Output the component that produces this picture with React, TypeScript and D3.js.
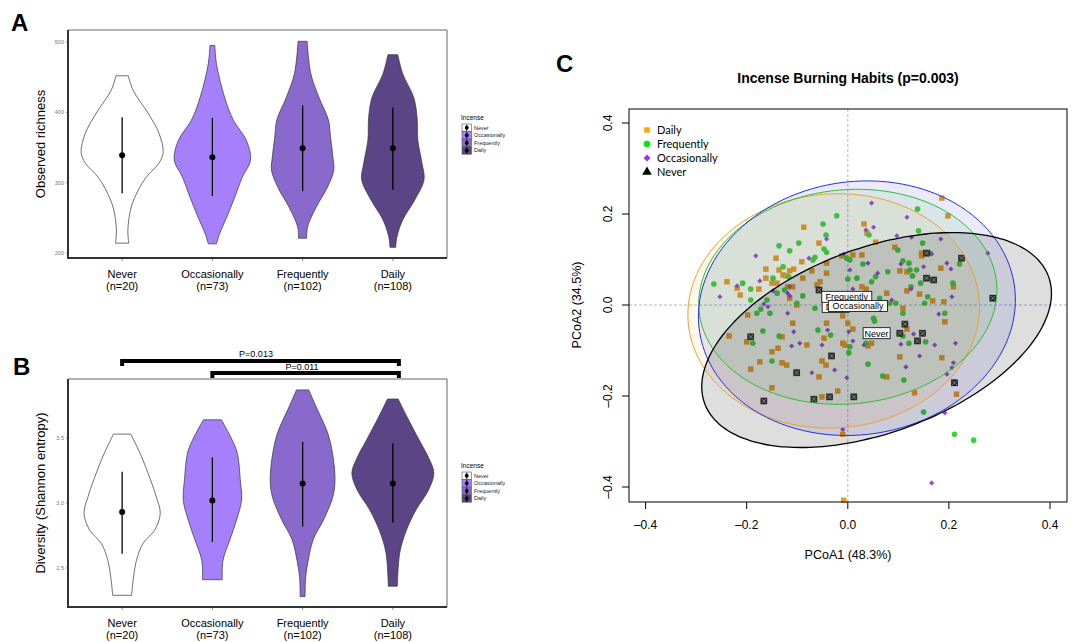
import React from "react";
import * as d3 from "d3";

const groups = ["Never", "Occasionally", "Frequently", "Daily"];
const groupN = [20, 73, 102, 108];
const fills = ["#ffffff", "#a67ffc", "#8a69cc", "#5c4587"];

// violin outlines: values and relative half widths
const richNeverV = [214, 233, 265, 289, 308, 328, 343, 370, 399, 431, 452];
const richNeverD = [0.16, 0.14, 0.22, 0.39, 0.59, 0.9, 1.0, 0.9, 0.63, 0.27, 0.15];
const richOccV = [213, 228, 251, 280, 308, 332, 360, 389, 421, 469, 495];
const richOccD = [0.1, 0.18, 0.35, 0.55, 0.73, 0.93, 0.83, 0.51, 0.3, 0.1, 0.06];
const richFreqV = [221, 237, 265, 294, 318, 336, 365, 389, 421, 455, 501];
const richFreqD = [0.1, 0.12, 0.33, 0.61, 0.76, 0.74, 0.68, 0.63, 0.4, 0.2, 0.11];
const richDailyV = [208, 223, 247, 275, 304, 328, 360, 393, 421, 455, 482];
const richDailyD = [0.07, 0.1, 0.24, 0.53, 0.76, 0.71, 0.61, 0.59, 0.51, 0.24, 0.12];
const richMean = [339, 336, 349, 349];
const richLo = [285, 281, 288, 290];
const richHi = [393, 392, 410, 407];

const shNeverV = [2.29, 2.41, 2.56, 2.69, 2.79, 2.92, 3.05, 3.18, 3.38, 3.53];
const shNeverD = [0.23, 0.27, 0.35, 0.51, 0.79, 0.93, 0.83, 0.69, 0.44, 0.21];
const shOccV = [2.41, 2.56, 2.72, 2.87, 3.02, 3.18, 3.38, 3.48, 3.64];
const shOccD = [0.24, 0.26, 0.43, 0.59, 0.71, 0.68, 0.61, 0.49, 0.22];
const shFreqV = [2.28, 2.41, 2.51, 2.72, 2.87, 3.05, 3.18, 3.38, 3.54, 3.74, 3.87];
const shFreqD = [0.06, 0.07, 0.11, 0.26, 0.51, 0.74, 0.79, 0.73, 0.61, 0.33, 0.15];
const shDailyV = [2.36, 2.62, 2.79, 2.95, 3.1, 3.23, 3.35, 3.48, 3.66, 3.8];
const shDailyD = [0.11, 0.17, 0.33, 0.57, 0.87, 1.0, 0.87, 0.65, 0.35, 0.13];
const shMean = [2.93, 3.02, 3.15, 3.15];
const shLo = [2.61, 2.7, 2.82, 2.85];
const shHi = [3.24, 3.35, 3.47, 3.46];

const richTicks = [200, 300, 400, 500];
const shTicks = [2.5, 3.0, 3.5];

// PCoA scores
const pcoaDaily = [
  [-0.087, 0.171], [-0.057, 0.136], [-0.142, 0.103], [-0.091, 0.095], [-0.162, 0.079], [-0.136, 0.077],
  [-0.115, 0.075], [-0.107, 0.079], [-0.128, 0.066], [-0.162, 0.059], [-0.14, 0.048], [-0.15, 0.048],
  [-0.123, 0.064], [-0.239, 0.051], [-0.219, 0.037], [-0.176, 0.035], [-0.213, 0.022], [-0.115, 0.015],
  [-0.119, 0.04], [-0.109, 0.04], [-0.089, 0.059], [-0.071, 0.075], [-0.042, 0.092], [-0.042, 0.07],
  [-0.055, 0.051], [-0.061, 0.044], [-0.012, 0.108], [0.01, 0.11], [-0.198, -0.022], [-0.01, -0.024],
  [-0.101, 0.0], [0.186, 0.235], [0.198, 0.196], [0.032, 0.178], [0.038, 0.158], [0.055, 0.138],
  [0.093, 0.127], [0.146, 0.114], [0.146, 0.108], [0.103, 0.075], [0.117, 0.073], [0.184, 0.081],
  [0.028, 0.04], [0.036, 0.035], [0.077, 0.026], [0.117, 0.031], [0.142, 0.024], [0.168, 0.009],
  [0.19, 0.007], [0.209, 0.04], [0.109, -0.007], [0.028, 0.11], [-0.109, -0.04], [-0.235, -0.068],
  [-0.2, -0.081], [-0.13, -0.07], [-0.15, -0.103], [-0.138, -0.095], [-0.081, -0.088], [-0.047, -0.073],
  [-0.042, -0.04], [-0.01, -0.084], [-0.006, -0.088], [-0.174, -0.125], [-0.192, -0.141], [-0.13, -0.127],
  [-0.121, -0.132], [-0.051, -0.123], [-0.043, -0.132], [-0.057, -0.158], [-0.15, -0.182], [-0.02, -0.189],
  [-0.051, -0.202], [0.01, -0.053], [0.0, -0.04], [-0.01, -0.284], [0.192, -0.037], [0.117, -0.053],
  [0.047, -0.084], [0.04, -0.09], [0.103, -0.114], [0.186, -0.116], [0.077, -0.158], [0.132, -0.193],
  [0.215, -0.196], [-0.008, -0.429],
];
const pcoaFrequently = [
  [-0.049, 0.178], [-0.022, 0.196], [-0.043, 0.154], [-0.097, 0.136], [-0.115, 0.119], [-0.136, 0.13],
  [-0.047, 0.123], [-0.042, 0.116], [-0.065, 0.105], [-0.069, 0.099], [-0.128, 0.084], [-0.148, 0.059],
  [-0.208, 0.048], [-0.265, 0.046], [-0.192, 0.035], [-0.192, 0.011], [-0.16, 0.011], [-0.14, 0.026],
  [-0.125, 0.033], [-0.089, 0.02], [-0.101, 0.004], [-0.065, -0.007], [-0.172, -0.009], [-0.18, -0.018],
  [-0.154, -0.018], [0.0, 0.057], [0.018, 0.059], [0.004, 0.099], [-0.002, 0.103], [-0.117, 0.062],
  [0.138, 0.211], [0.14, 0.163], [0.148, 0.136], [0.099, 0.121], [0.162, 0.114], [0.109, 0.097],
  [0.121, 0.092], [0.123, 0.077], [0.136, 0.077], [0.079, 0.073], [0.047, 0.051], [0.03, 0.09],
  [0.128, 0.064], [0.144, 0.048], [0.125, 0.04], [0.208, 0.048], [0.221, 0.09], [0.158, 0.018],
  [0.152, 0.004], [0.095, 0.004], [0.083, 0.004], [0.063, 0.015], [0.055, 0.062], [0.109, -0.018],
  [0.192, -0.018], [0.051, -0.029], [0.042, 0.154], [-0.168, -0.057], [-0.188, -0.084], [-0.136, -0.068],
  [-0.059, -0.055], [-0.034, -0.066], [0.004, -0.092], [0.002, -0.105], [-0.15, -0.123], [0.053, -0.035],
  [0.109, -0.068], [0.121, -0.084], [0.154, -0.081], [0.036, -0.084], [0.04, -0.13], [0.069, -0.156],
  [0.111, -0.165], [0.15, -0.235], [0.211, -0.284], [0.249, -0.297],
];
const pcoaOccasionally = [
  [-0.042, 0.145], [-0.182, 0.108], [-0.077, 0.103], [-0.008, 0.112], [0.004, 0.077], [-0.174, 0.053],
  [-0.219, 0.042], [-0.253, 0.018], [-0.148, 0.031], [-0.119, 0.026], [-0.115, 0.02], [-0.166, 0.002],
  [-0.158, -0.004], [-0.119, -0.018], [0.01, 0.035], [-0.115, 0.04], [0.047, 0.224], [0.117, 0.193],
  [0.051, 0.171], [0.036, 0.165], [0.097, 0.152], [0.126, 0.149], [0.184, 0.145], [0.277, 0.114],
  [0.166, 0.112], [0.196, 0.092], [0.204, 0.079], [0.15, 0.084], [0.105, 0.09], [0.059, 0.07],
  [0.04, 0.092], [0.125, 0.035], [0.206, 0.018], [0.087, 0.011], [0.18, -0.02], [-0.107, -0.059],
  [-0.04, -0.055], [-0.095, -0.084], [-0.111, -0.09], [-0.051, -0.088], [-0.026, -0.143], [-0.002, -0.16],
  [-0.071, -0.149], [-0.01, -0.273], [0.01, -0.079], [0.002, -0.059], [0.13, -0.064], [0.105, -0.086],
  [0.172, -0.088], [0.213, -0.084], [0.032, -0.088], [0.142, -0.112], [0.209, -0.127], [0.115, -0.136],
  [0.206, -0.138], [0.196, -0.152], [0.192, -0.237], [0.166, -0.391],
];
const pcoaNever = [
  [-0.057, 0.033], [0.156, 0.114], [0.225, 0.103], [0.156, 0.059], [0.17, 0.055], [0.287, 0.015],
  [-0.192, -0.07], [-0.032, -0.112], [-0.101, -0.149], [-0.067, -0.207], [-0.036, -0.202], [0.012, -0.202],
  [-0.166, -0.211], [0.113, -0.042], [0.148, -0.062], [0.103, -0.062], [0.138, -0.079], [0.211, -0.171],
];
// group ellipses: centre x, centre y, radius a, radius b, angle (deg)
const ellDaily = [-0.028, -0.013, 0.289, 0.257, 8];
const ellFrequently = [0.0, 0.018, 0.296, 0.235, 8];
const ellOccasionally = [0.018, -0.007, 0.316, 0.277, 15];
const ellNever = [0.057, -0.077, 0.368, 0.2, 24];
// group centroid labels
const labelDaily = [-0.024, -0.004];
const labelFrequently = [-0.002, 0.018];
const labelOccasionally = [0.02, -0.002];
const labelNever = [0.057, -0.062];
const pcoaTicks = [-0.4, -0.2, 0.0, 0.2, 0.4];

const sans = "Liberation Sans, Arial, sans-serif";

function ViolinPanel(props) {
  const { top, bottom, yDomain, yRange, ticks, profiles, mean, lo, hi, yLabel, labelY, fmt } = props;
  const left = 68, right = 447;
  const x = d3.scalePoint().domain(groups).range([left, right]).padding(0.6);
  const y = d3.scaleLinear().domain(yDomain).range(yRange);
  const w = d3.scaleLinear().domain([0, 1]).range([0, 41]);

  return (
    <g>
      {profiles.map((p, i) => {
        const cx = x(groups[i]);
        const pts = p[0].map((v, j) => [v, p[1][j]]);
        const area = d3.area()
          .y(d => y(d[0]))
          .x0(d => cx - w(d[1]))
          .x1(d => cx + w(d[1]))
          .curve(d3.curveCatmullRom);
        return (
          <g key={i}>
            <path d={area(pts)} fill={fills[i]} stroke="#333" strokeWidth={0.7} />
            <line x1={cx} x2={cx} y1={y(lo[i])} y2={y(hi[i])} stroke="#000" strokeWidth={1.3} />
            <circle cx={cx} cy={y(mean[i])} r={3} fill="#000" />
          </g>
        );
      })}
      <line x1={left} x2={right} y1={top} y2={top} stroke="#666" strokeWidth={1} />
      <line x1={right} x2={right} y1={top} y2={bottom} stroke="#666" strokeWidth={1} />
      <line x1={left} x2={left} y1={top} y2={bottom + 1} stroke="#333" strokeWidth={2} />
      <line x1={left - 1} x2={right} y1={bottom} y2={bottom} stroke="#333" strokeWidth={2} />
      {ticks.map(t => (
        <g key={t}>
          <line x1={left - 2} x2={left} y1={y(t)} y2={y(t)} stroke="#444" strokeWidth={0.6} />
          <text x={left - 4} y={y(t) + 2} fontSize={5.5} fill="#777" textAnchor="end" fontFamily={sans}>{fmt(t)}</text>
        </g>
      ))}
      {groups.map((g, i) => (
        <g key={g}>
          <line x1={x(g)} x2={x(g)} y1={bottom + 1} y2={bottom + 3} stroke="#444" strokeWidth={0.6} />
          <text x={x(g)} y={labelY} fontSize={11} textAnchor="middle" fontFamily={sans}>{g}</text>
          <text x={x(g)} y={labelY + 11.5} fontSize={11} textAnchor="middle" fontFamily={sans}>{`(n=${groupN[i]})`}</text>
        </g>
      ))}
      <text transform={`translate(45,${(top + bottom) / 2}) rotate(-90)`} fontSize={13} textAnchor="middle" fontFamily={sans}>{yLabel}</text>
    </g>
  );
}

function ViolinLegend({ x0, y0 }) {
  return (
    <g fontFamily={sans}>
      <text x={x0} y={y0} fontSize={6.5}>Incense</text>
      {groups.map((g, i) => {
        const ry = y0 + 4 + i * 7.6;
        return (
          <g key={g}>
            <rect x={x0 + 1} y={ry} width={9.5} height={7.4} fill={fills[i]} stroke="#555" strokeWidth={0.6} />
            <line x1={x0 + 5.75} x2={x0 + 5.75} y1={ry + 0.5} y2={ry + 7} stroke="#000" strokeWidth={1} />
            <circle cx={x0 + 5.75} cy={ry + 3.7} r={1.9} fill="#000" />
            <text x={x0 + 13} y={ry + 5.6} fontSize={5.5} fill="#222">{g}</text>
          </g>
        );
      })}
    </g>
  );
}

function NeverMark({ cx, cy }) {
  return (
    <g>
      <rect x={cx - 3} y={cy - 3} width={6} height={6} fill="#2a2a2a" stroke="#000" strokeWidth={0.6} />
      <line x1={cx - 2.2} x2={cx + 2.2} y1={cy - 2.2} y2={cy + 2.2} stroke="#ccc" strokeWidth={0.7} />
      <line x1={cx - 2.2} x2={cx + 2.2} y1={cy + 2.2} y2={cy - 2.2} stroke="#ccc" strokeWidth={0.7} />
    </g>
  );
}

function PcoaPanel() {
  const xC = d3.scaleLinear().domain([-0.4, 0.4]).range([645.6, 1050]);
  const yC = d3.scaleLinear().domain([-0.4, 0.4]).range([487, 123]);
  const L = 629, R = 1067, T = 109, B = 502;
  const ellPath = e => {
    const a = (e[4] * Math.PI) / 180;
    const pts = d3.range(0, 360, 3).map(t => {
      const r = (t * Math.PI) / 180;
      const u = e[2] * Math.cos(r), v = e[3] * Math.sin(r);
      return [e[0] + u * Math.cos(a) - v * Math.sin(a), e[1] + u * Math.sin(a) + v * Math.cos(a)];
    });
    return d3.line().x(d => xC(d[0])).y(d => yC(d[1])).curve(d3.curveCardinalClosed)(pts);
  };
  const sq = d3.symbol(d3.symbolSquare, 30)();
  const dia = d3.symbol(d3.symbolSquare, 13)();
  const tri = d3.symbol(d3.symbolTriangle, 40)();
  const ells = [
    { e: ellDaily, fill: "rgba(255,160,0,0.08)", stroke: "#f0a030" },
    { e: ellFrequently, fill: "rgba(0,200,0,0.07)", stroke: "#33bb33" },
    { e: ellOccasionally, fill: "rgba(20,20,200,0.09)", stroke: "#2233dd" },
    { e: ellNever, fill: "rgba(0,0,0,0.13)", stroke: "#000" },
  ];
  const labels = [
    { p: labelDaily, t: "Daily" },
    { p: labelFrequently, t: "Frequently" },
    { p: labelOccasionally, t: "Occasionally" },
    { p: labelNever, t: "Never" },
  ];
  return (
    <g fontFamily={sans}>
      <text x={848} y={83} fontSize={14} fontWeight="bold" textAnchor="middle">Incense Burning Habits (p=0.003)</text>
      <line x1={xC(0)} x2={xC(0)} y1={T} y2={B} stroke="#8fa6d6" strokeWidth={0.8} strokeDasharray="3,2" />
      <line x1={L} x2={R} y1={yC(0)} y2={yC(0)} stroke="#8fa6d6" strokeWidth={0.8} strokeDasharray="3,2" />
      {pcoaDaily.map((d, i) => (
        <path key={"d" + i} d={sq} transform={`translate(${xC(d[0])},${yC(d[1])})`} fill="#f29a26" />
      ))}
      {pcoaFrequently.map((d, i) => (
        <circle key={"f" + i} cx={xC(d[0])} cy={yC(d[1])} r={2.8} fill="#3fd23f" />
      ))}
      {pcoaOccasionally.map((d, i) => (
        <path key={"o" + i} d={dia} transform={`translate(${xC(d[0])},${yC(d[1])}) rotate(45)`} fill="#9a44e4" />
      ))}
      {pcoaNever.map((d, i) => (
        <NeverMark key={"n" + i} cx={xC(d[0])} cy={yC(d[1])} />
      ))}
      {ells.map((e, i) => (
        <path key={"ef" + i} d={ellPath(e.e)} fill={e.fill} stroke="none" />
      ))}
      {ells.map((e, i) => (
        <path key={"es" + i} d={ellPath(e.e)} fill="none" stroke={e.stroke} strokeWidth={i === 3 ? 1.3 : 1} />
      ))}
      {labels.map(l => {
        const w = l.t.length * 4.6 + 4;
        const cx = xC(l.p[0]), cy = yC(l.p[1]);
        return (
          <g key={l.t}>
            <rect x={cx - w / 2} y={cy - 5.5} width={w} height={11} fill="#fff" stroke="#000" strokeWidth={0.8} />
            <text x={cx} y={cy + 3.3} fontSize={9} textAnchor="middle">{l.t}</text>
          </g>
        );
      })}
      <rect x={L} y={T} width={R - L} height={B - T} fill="none" stroke="#000" strokeWidth={1} />
      {pcoaTicks.map(t => (
        <g key={"x" + t}>
          <line x1={xC(t)} x2={xC(t)} y1={B} y2={B + 7} stroke="#000" />
          <text x={xC(t)} y={529} fontSize={12} textAnchor="middle">{t === 0 ? "0.0" : (t < 0 ? "\u2013" : "") + Math.abs(t).toFixed(1)}</text>
          <line x1={L - 7} x2={L} y1={yC(t)} y2={yC(t)} stroke="#000" />
          <text transform={`translate(612,${yC(t)}) rotate(-90)`} fontSize={12} textAnchor="middle">{t === 0 ? "0.0" : (t < 0 ? "\u2013" : "") + Math.abs(t).toFixed(1)}</text>
        </g>
      ))}
      <text x={848} y={559} fontSize={12.5} textAnchor="middle">PCoA1 (48.3%)</text>
      <text transform={`translate(581,${yC(0)}) rotate(-90)`} fontSize={12.5} textAnchor="middle">PCoA2 (34.5%)</text>
      <g fontFamily="Lato, sans-serif" fontSize={11}>
        <path d={sq} transform="translate(647,130)" fill="#ffa500" />
        <text x={657} y={134}>Daily</text>
        <circle cx={647} cy={144} r={3.3} fill="#00ee00" />
        <text x={657} y={148}>Frequently</text>
        <path d={d3.symbol(d3.symbolSquare, 24)()} transform="translate(647,158) rotate(45)" fill="#a030f0" />
        <text x={657} y={162}>Occasionally</text>
        <path d={tri} transform="translate(647,172)" fill="#000" />
        <text x={657} y={176}>Never</text>
      </g>
    </g>
  );
}

export default function App() {
  const richProfiles = [[richNeverV, richNeverD], [richOccV, richOccD], [richFreqV, richFreqD], [richDailyV, richDailyD]];
  const shProfiles = [[shNeverV, shNeverD], [shOccV, shOccD], [shFreqV, shFreqD], [shDailyV, shDailyD]];
  const xB = d3.scalePoint().domain(groups).range([68, 447]).padding(0.6);
  return (
    <svg width={1072} height={642} style={{ position: "absolute", left: 0, top: 0, background: "#fff" }}>
      <rect width={1072} height={642} fill="#fff" />
      <text x={11} y={31} fontSize={24} fontWeight="bold" fontFamily={sans}>A</text>
      <ViolinPanel top={30} bottom={258} yDomain={[200, 500]} yRange={[253, 42]} ticks={richTicks}
        profiles={richProfiles} mean={richMean} lo={richLo} hi={richHi} yLabel="Observed richness"
        labelY={278} fmt={d => String(d)} />
      <ViolinLegend x0={461} y0={120} />

      <text x={13} y={375} fontSize={24} fontWeight="bold" fontFamily={sans}>B</text>
      <ViolinPanel top={379} bottom={607} yDomain={[2.5, 3.5]} yRange={[568, 438]} ticks={shTicks}
        profiles={shProfiles} mean={shMean} lo={shLo} hi={shHi} yLabel="Diversity (Shannon entropy)"
        labelY={627} fmt={d => d.toFixed(1)} />
      <ViolinLegend x0={461} y0={468} />
      <g fontFamily={sans}>
        <path d={`M${xB("Never")},366V361H${xB("Daily") + 6}V366`} fill="none" stroke="#000" strokeWidth={4} />
        <text x={256} y={357} fontSize={9} textAnchor="middle">P=0.013</text>
        <path d={`M${xB("Occasionally")},378V373H${xB("Daily") + 6}V378`} fill="none" stroke="#000" strokeWidth={4} />
        <text x={302} y={370} fontSize={9} textAnchor="middle">P=0.011</text>
      </g>

      <text x={556} y={72} fontSize={24} fontWeight="bold" fontFamily={sans}>C</text>
      <PcoaPanel />
    </svg>
  );
}
